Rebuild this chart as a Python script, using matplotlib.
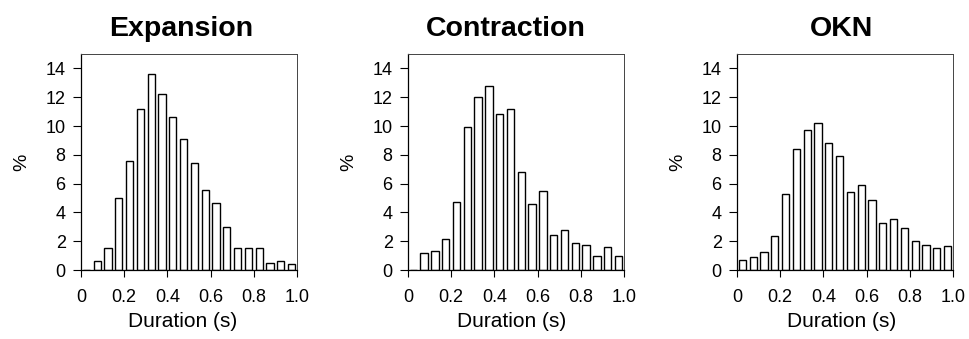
import numpy as np
import matplotlib
matplotlib.use("Agg")
import matplotlib.pyplot as plt

plt.rcParams['font.family'] = ['Liberation Sans', 'DejaVu Sans']

# histogram bins: 0.05 s wide, 0 to 1.0 s
bin_edges = np.arange(0, 1.0001, 0.05)
bin_centers = bin_edges[:-1] + 0.025

titles = ["Expansion", "Contraction", "OKN"]

# percentage of saccades per duration bin
expansion = [0, 0.6, 1.55, 5.0, 7.55, 11.2, 13.6, 12.25, 10.65, 9.1,
             7.45, 5.55, 4.65, 3.0, 1.55, 1.55, 1.55, 0.5, 0.6, 0.4]
contraction = [0, 1.2, 1.3, 2.15, 4.75, 9.9, 12.0, 12.75, 10.85, 11.15,
               6.8, 4.6, 5.5, 2.4, 2.8, 1.9, 1.75, 1.0, 1.6, 1.0]
okn = [0.7, 0.9, 1.25, 2.35, 5.3, 8.4, 9.7, 10.2, 8.8, 7.9,
       5.45, 5.9, 4.85, 3.25, 3.55, 2.9, 2.05, 1.75, 1.5, 1.7]

xticks = [0, 0.2, 0.4, 0.6, 0.8, 1.0]
xticklabels = ["0", "0.2", "0.4", "0.6", "0.8", "1.0"]
yticks = [0, 2, 4, 6, 8, 10, 12, 14]

fig = plt.figure(figsize=(9.69, 3.39), dpi=100)
lefts = [0.0836, 0.421, 0.7606]
title_x = [0.465, 0.455, 0.485]
xlabel_x = [0.47, 0.48, 0.485]

for i, (title, vals) in enumerate(zip(titles, [expansion, contraction, okn])):
    ax = fig.add_axes([lefts[i], 0.2035, 0.2229, 0.637])
    ax.bar(bin_centers, vals, width=0.034, color="white",
           edgecolor="black", linewidth=1.0)
    ax.set_xlim(0, 1.0)
    ax.set_ylim(0, 15)
    ax.set_xticks(xticks)
    ax.set_xticklabels(xticklabels)
    ax.set_yticks(yticks)
    ax.tick_params(axis="y", direction="out", length=6, width=0.8,
                   pad=5, labelsize=13)
    ax.tick_params(axis="x", direction="out", length=5, width=0.8,
                   pad=9, labelsize=13)
    for side in ["left", "bottom"]:
        ax.spines[side].set_linewidth(0.9)
    for side in ["top", "right"]:
        ax.spines[side].set_linewidth(0.7)
        ax.spines[side].set_color("#444444")
    ax.set_title(title, fontsize=20.5, fontweight="bold", pad=13,
                 x=title_x[i])
    ax.set_xlabel("Duration (s)", fontsize=15, labelpad=4, x=xlabel_x[i])
    ax.set_ylabel("%", fontsize=14, labelpad=11)

fig.savefig("out.png", dpi=100)
